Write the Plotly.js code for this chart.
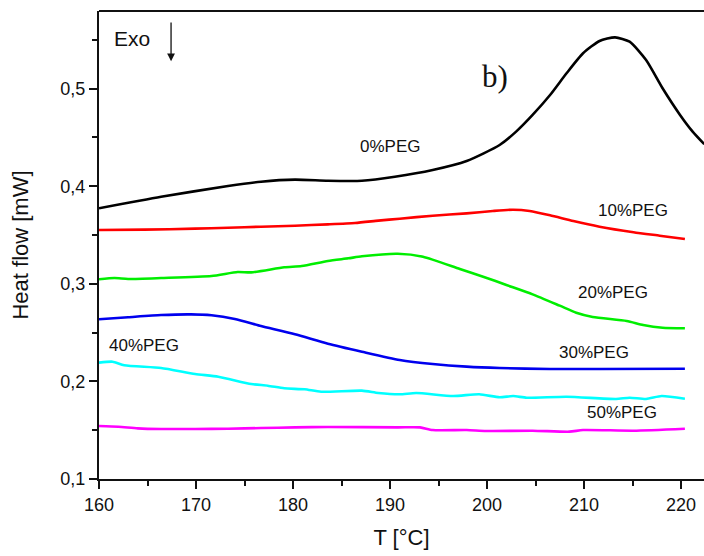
<!DOCTYPE html>
<html>
<head>
<meta charset="utf-8">
<script src="https://cdn.plot.ly/plotly-3.0.1.min.js"></script>
<style>html,body{margin:0;padding:0;background:#fff}#chart{width:704px;height:556px}</style>
</head>
<body>
<div id="chart"></div>
<script>
// 0%PEG
const t0 = [160, 166.4, 173.3, 176.7, 180.2, 183.6, 187.1, 190.5, 194.4, 197.9, 201.3, 203.0, 204.7, 206.5, 208.2, 209.9, 211.6, 213.2, 214.7, 216.4, 218.1, 219.9, 221.2, 222.4];
const y0 = [0.3774, 0.3892, 0.4002, 0.4046, 0.4067, 0.4056, 0.4056, 0.4097, 0.4166, 0.4258, 0.4422, 0.4559, 0.4730, 0.4934, 0.5157, 0.5362, 0.5488, 0.5525, 0.5481, 0.5293, 0.5003, 0.4730, 0.4559, 0.4430];
// 10%PEG
const t10 = [160, 164.7, 169.9, 173.3, 176.7, 180.2, 183.6, 186.4, 188.8, 191.0, 194.4, 197.9, 200.6, 202.7, 204.4, 206.5, 208.9, 211.6, 215.1, 217.8, 220.4];
const y10 = [0.3551, 0.3555, 0.3565, 0.3575, 0.3585, 0.3595, 0.3609, 0.3623, 0.3647, 0.3667, 0.3698, 0.3722, 0.3746, 0.3759, 0.3746, 0.3702, 0.3643, 0.3585, 0.3528, 0.3493, 0.3459];
// 20%PEG
const t20 = [160, 161.6, 163.0, 166.4, 171.6, 174.3, 175.7, 179.1, 180.9, 183.6, 185.7, 187.1, 190.8, 193.4, 197.2, 199.6, 202.0, 204.7, 207.5, 209.2, 210.9, 214.4, 216.1, 218.1, 220.4];
const y20 = [0.3046, 0.3059, 0.3049, 0.3059, 0.3080, 0.3121, 0.3117, 0.3169, 0.3182, 0.3234, 0.3261, 0.3282, 0.3308, 0.3278, 0.3152, 0.3073, 0.2988, 0.2892, 0.2776, 0.2704, 0.2660, 0.2619, 0.2578, 0.2550, 0.2544];
// 30%PEG
const t30 = [160, 163.0, 166.4, 169.5, 171.6, 174.0, 176.7, 180.2, 183.6, 187.1, 191.0, 194.4, 197.9, 201.3, 206.5, 211.6, 220.4];
const y30 = [0.2636, 0.2657, 0.2680, 0.2687, 0.2677, 0.2639, 0.2568, 0.2483, 0.2386, 0.2304, 0.2219, 0.2178, 0.2151, 0.2137, 0.2127, 0.2127, 0.2130];
// 40%PEG
const t40 = [160, 161.4, 162.6, 166.4, 169.9, 172.3, 175.7, 177.4, 179.1, 181.2, 182.9, 187.1, 188.8, 191.0, 192.7, 196.5, 199.2, 201.3, 202.7, 204.1, 208.2, 213.3, 214.7, 216.4, 218.0, 220.4];
const y40 = [0.2192, 0.2202, 0.2165, 0.2137, 0.2076, 0.2048, 0.1973, 0.1956, 0.1929, 0.1919, 0.1894, 0.1905, 0.1881, 0.1868, 0.1881, 0.1850, 0.1868, 0.1837, 0.1850, 0.1833, 0.1843, 0.1820, 0.1833, 0.1820, 0.1850, 0.1823];
// 50%PEG
const t50 = [160, 162.0, 164.0, 166.4, 169.9, 173.3, 176.7, 180.2, 183.6, 190.8, 193.1, 194.4, 197.9, 199.9, 204.7, 208.5, 209.9, 215.1, 220.4];
const y50 = [0.1543, 0.1536, 0.1519, 0.1512, 0.1512, 0.1515, 0.1522, 0.1529, 0.1533, 0.1529, 0.1529, 0.1502, 0.1502, 0.1492, 0.1495, 0.1485, 0.1502, 0.1495, 0.1515];

const seriesNames = ['0%PEG', '10%PEG', '20%PEG', '30%PEG', '40%PEG', '50%PEG'];
const seriesColors = ['#000000', '#ff0000', '#00ee00', '#0000ee', '#00ffff', '#ff00ff'];
const xs = [t0, t10, t20, t30, t40, t50];
const ys = [y0, y10, y20, y30, y40, y50];

const xTicks = [160, 170, 180, 190, 200, 210, 220];
const yTicks = [0.1, 0.2, 0.3, 0.4, 0.5];
const yTickText = ['0,1', '0,2', '0,3', '0,4', '0,5'];

const traces = xs.map((x, i) => ({
  x: x, y: ys[i], type: 'scatter', mode: 'lines', name: seriesNames[i],
  line: {color: seriesColors[i], width: 2.6, shape: 'spline', smoothing: 0.6},
  hoverinfo: 'skip'
}));

// label positions (data coords)
const labelX = [190.0, 215.0, 213.0, 211.0, 164.6, 213.9];
const labelY = [0.4402, 0.3746, 0.2906, 0.2301, 0.2363, 0.1686];

const sans = 'Liberation Sans, Arial, sans-serif';
const txtFont = {family: sans, size: 17, color: '#111'};
const annotations = seriesNames.map((n, i) => ({
  x: labelX[i], y: labelY[i], xref: 'x', yref: 'y', text: n, showarrow: false,
  xanchor: 'center', yanchor: 'middle', font: txtFont
}));
annotations.push({x: 0.0546, y: 0.9420, xref: 'paper', yref: 'paper', text: 'Exo', showarrow: false,
  xanchor: 'center', yanchor: 'middle', font: {family: sans, size: 21, color: '#111'}});
annotations.push({x: 0.6545, y: 0.8590, xref: 'paper', yref: 'paper', text: 'b)', showarrow: false,
  xanchor: 'center', yanchor: 'middle', font: {family: 'Liberation Serif, Times New Roman, serif', size: 31, color: '#111'}});
// Exo arrow
annotations.push({x: 0.1191, y: 0.8926, xref: 'paper', yref: 'paper', ax: 0.1191, ay: 0.9786, axref: 'paper', ayref: 'paper',
  text: '', showarrow: true, arrowhead: 2, arrowsize: 1.2, arrowwidth: 1.3, arrowcolor: '#111'});

const axFont = {family: sans, size: 18, color: '#111'};
const layout = {
  width: 704, height: 556,
  margin: {l: 99, r: 0, t: 11, b: 77},
  paper_bgcolor: '#fff', plot_bgcolor: '#fff',
  showlegend: false,
  xaxis: {
    range: [160, 222.37], tickvals: xTicks,
    ticks: 'outside', ticklen: 8, tickwidth: 2, tickcolor: '#111',
    showline: true, linewidth: 2, linecolor: '#111', showgrid: false, zeroline: false,
    tickfont: axFont,
    minor: {tickvals: [165, 175, 185, 195, 205, 215], ticks: 'outside', ticklen: 5, tickwidth: 2, tickcolor: '#111', showgrid: false},
    title: {text: 'T [°C]', font: {family: sans, size: 22, color: '#111'}, standoff: 16}
  },
  yaxis: {
    range: [0.1, 0.5795], tickvals: yTicks, ticktext: yTickText,
    ticks: 'outside', ticklen: 8, tickwidth: 2, tickcolor: '#111',
    showline: true, linewidth: 2, linecolor: '#111', showgrid: false, zeroline: false,
    tickfont: axFont,
    minor: {tickvals: [0.15, 0.25, 0.35, 0.45, 0.55], ticks: 'outside', ticklen: 5, tickwidth: 2, tickcolor: '#111', showgrid: false},
    title: {text: 'Heat flow [mW]', font: {family: sans, size: 22, color: '#111'}, standoff: 26}
  },
  shapes: [{type: 'line', xref: 'paper', yref: 'paper', x0: 0, x1: 1, y0: 1, y1: 1, line: {color: '#111', width: 2}}],
  annotations: annotations
};

Plotly.newPlot('chart', traces, layout, {displayModeBar: false, staticPlot: true});
</script>
</body>
</html>
